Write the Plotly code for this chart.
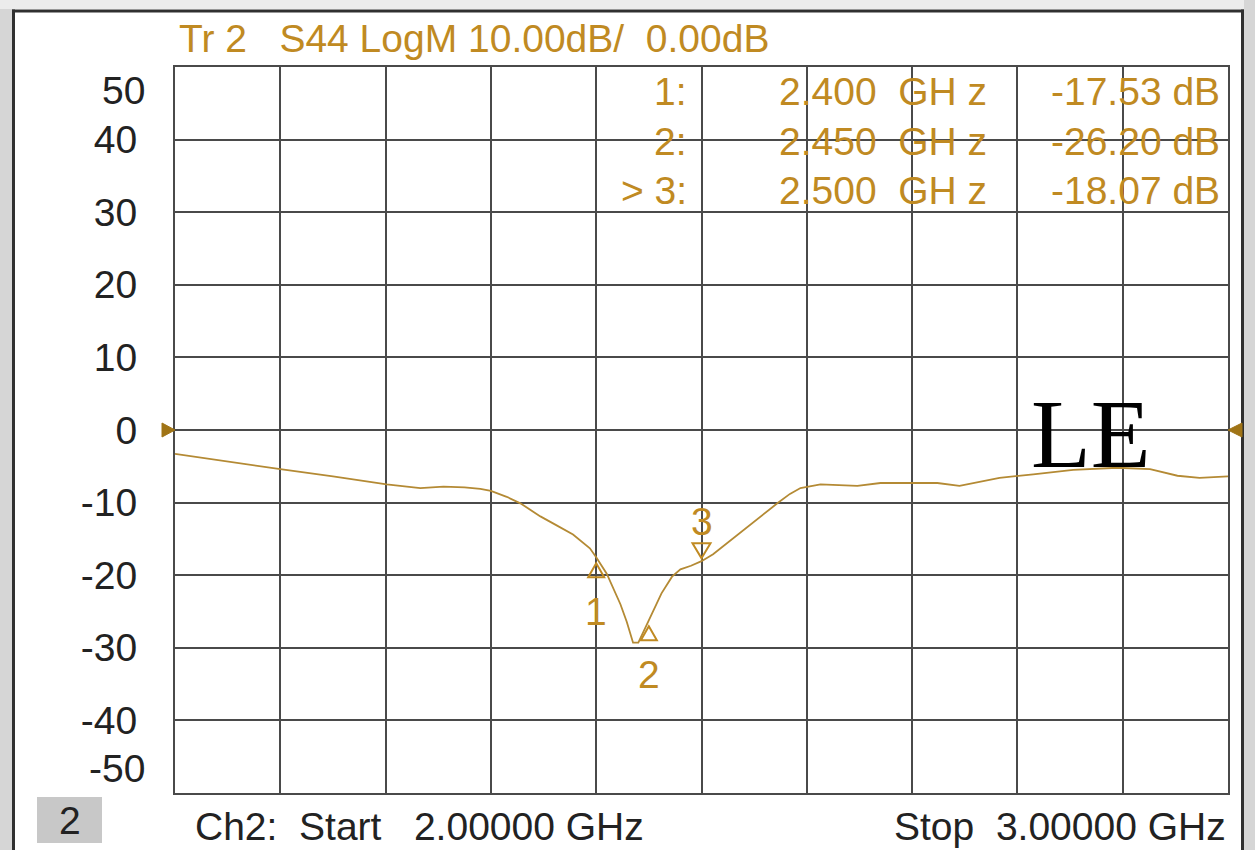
import plotly.graph_objects as go

# ---------------- data ----------------
freq_ghz = [2.000, 2.050, 2.100, 2.150, 2.201, 2.233, 2.255, 2.275, 2.290, 2.300,
            2.315, 2.328, 2.347, 2.362, 2.378, 2.394, 2.400, 2.410, 2.416, 2.423,
            2.429, 2.435, 2.440, 2.450, 2.454, 2.462, 2.472, 2.480, 2.490, 2.500,
            2.511, 2.530, 2.549, 2.572, 2.584, 2.594, 2.613, 2.648, 2.670, 2.724,
            2.745, 2.783, 2.815, 2.853, 2.895, 2.926, 2.952, 2.973, 3.000]
s44_db = [-3.3, -4.4, -5.4, -6.4, -7.5, -8.0, -7.8, -7.9, -8.1, -8.4,
          -9.2, -10.1, -11.9, -13.1, -14.4, -16.3, -17.53, -19.8, -21.8, -24.0,
          -26.4, -29.3, -29.3, -26.2, -25.0, -22.5, -20.2, -19.2, -18.7, -18.07,
          -17.1, -14.9, -12.8, -10.1, -8.8, -8.0, -7.5, -7.7, -7.3, -7.3,
          -7.7, -6.6, -6.1, -5.5, -5.2, -5.4, -6.3, -6.6, -6.4]

marker_ids = ["1", "2", "3"]
marker_row_labels = ["1:", "2:", "> 3:"]
marker_freq = [2.400, 2.450, 2.500]
marker_db = [-17.53, -26.20, -18.07]
marker_dir = ["up", "up", "down"]

y_tick_vals = [50, 40, 30, 20, 10, 0, -10, -20, -30, -40, -50]

NB = "\u00a0"
header_text = "Tr 2" + NB * 3 + "S44 LogM 10.00dB/" + NB * 2 + "0.00dB"
start_text = "Ch2:" + NB * 2 + "Start" + NB * 3 + "2.00000 GHz"
stop_text = "Stop" + NB * 2 + "3.00000 GHz"
overlay_text = "LE"
channel_text = "2"

# ---------------- style ----------------
W, H = 1255, 850
L, R, T, B = 175, 1228, 67, 793
GOLD_TXT = "#c08a22"
GOLD_LINE = "#b48a34"
GOLD_DARK = "#a07416"
GRID = "#4a4a4a"
DARK_TXT = "#222222"
FONT = "Liberation Sans, Arial, sans-serif"
FS = 39


def px(x):
    return (x - L) / (R - L)


def py(y):
    return (B - y) / (B - T)


fig = go.Figure()
fig.add_trace(go.Scatter(x=freq_ghz, y=s44_db, mode="lines",
                         line=dict(color=GOLD_LINE, width=1.8),
                         hoverinfo="skip", showlegend=False))

shapes = []
annotations = []

# frame of the instrument screen
shapes += [
    dict(type="rect", xref="paper", yref="paper", x0=px(0), x1=px(12), y0=py(850), y1=py(0),
         fillcolor="#d6d6d6", line_width=0, layer="below"),
    dict(type="rect", xref="paper", yref="paper", x0=px(0), x1=px(1255), y0=py(9), y1=py(0),
         fillcolor="#ececec", line_width=0, layer="below"),
    dict(type="rect", xref="paper", yref="paper", x0=px(1244), x1=px(1255), y0=py(850), y1=py(0),
         fillcolor="#d6d6d6", line_width=0, layer="below"),
    dict(type="line", xref="paper", yref="paper", x0=px(13.5), x1=px(13.5), y0=py(850), y1=py(9.5),
         line=dict(color="#303030", width=3)),
    dict(type="line", xref="paper", yref="paper", x0=px(12), x1=px(1244), y0=py(11), y1=py(11),
         line=dict(color="#303030", width=3)),
    dict(type="line", xref="paper", yref="paper", x0=px(1242.5), x1=px(1242.5), y0=py(850), y1=py(9.5),
         line=dict(color="#303030", width=3)),
    dict(type="rect", xref="paper", yref="paper", x0=px(37), x1=px(102), y0=py(843), y1=py(797),
         fillcolor="#c8c8c8", line_width=0, layer="below"),
]

# reference-level arrows at 0 dB
shapes += [
    dict(type="path", xref="x domain", yref="y", xsizemode="pixel", ysizemode="pixel",
         xanchor=0, yanchor=0, path="M -13 7 L 0 0 L -13 -7 Z",
         fillcolor=GOLD_DARK, line=dict(color=GOLD_DARK, width=1)),
    dict(type="path", xref="x domain", yref="y", xsizemode="pixel", ysizemode="pixel",
         xanchor=1, yanchor=0, path="M 14 7 L 0 0 L 14 -7 Z",
         fillcolor=GOLD_DARK, line=dict(color=GOLD_DARK, width=1)),
]

# markers on the trace
for mid, f, v, d in zip(marker_ids, marker_freq, marker_db, marker_dir):
    if d == "up":
        path = "M 0 -6 L 8 -20 L -8 -20 Z"
        label_shift = -54
    else:
        path = "M 0 3 L 9 18 L -9 18 Z"
        label_shift = 40
    shapes.append(dict(type="path", xref="x", yref="y", xsizemode="pixel", ysizemode="pixel",
                       xanchor=f, yanchor=v, path=path,
                       line=dict(color=GOLD_TXT, width=2)))
    annotations.append(dict(x=f, y=v, xref="x", yref="y", text=mid, showarrow=False,
                            yshift=label_shift, xanchor="center", yanchor="middle",
                            font=dict(family=FONT, size=FS, color=GOLD_TXT)))

# marker table
row_y = [92, 141, 191]
for lab, f, v, yy in zip(marker_row_labels, marker_freq, marker_db, row_y):
    annotations += [
        dict(x=px(689), y=py(yy), xref="paper", yref="paper", text=lab.replace(" ", NB),
             showarrow=False, xanchor="right", yanchor="middle",
             font=dict(family=FONT, size=FS, color=GOLD_TXT)),
        dict(x=px(777), y=py(yy), xref="paper", yref="paper",
             text=f"{f:.3f}" + NB * 2 + "GH" + NB + "z", showarrow=False,
             xanchor="left", yanchor="middle",
             font=dict(family=FONT, size=FS, color=GOLD_TXT)),
        dict(x=px(1222), y=py(yy), xref="paper", yref="paper",
             text=f"{v:.2f} dB", showarrow=False, xanchor="right", yanchor="middle",
             font=dict(family=FONT, size=FS, color=GOLD_TXT)),
    ]

# header / footer
annotations += [
    dict(x=px(177), y=py(38), xref="paper", yref="paper", text=header_text, showarrow=False,
         xanchor="left", yanchor="middle", font=dict(family=FONT, size=FS, color=GOLD_TXT)),
    dict(x=px(193), y=py(827), xref="paper", yref="paper", text=start_text, showarrow=False,
         xanchor="left", yanchor="middle", font=dict(family=FONT, size=FS, color=DARK_TXT)),
    dict(x=px(1228), y=py(827), xref="paper", yref="paper", text=stop_text, showarrow=False,
         xanchor="right", yanchor="middle", font=dict(family=FONT, size=FS, color=DARK_TXT)),
    dict(x=px(69.5), y=py(820), xref="paper", yref="paper", text=channel_text, showarrow=False,
         xanchor="center", yanchor="middle", font=dict(family=FONT, size=FS, color=DARK_TXT)),
    dict(x=px(1091), y=py(434), xref="paper", yref="paper", text=overlay_text, showarrow=False,
         xanchor="center", yanchor="middle",
         font=dict(family="Liberation Serif, Times New Roman, serif", size=98, color="black")),
]

# end tick labels shifted inward (as on the instrument)
tick_text = [str(v) for v in y_tick_vals]
for v, shift in ((y_tick_vals[0], -23), (y_tick_vals[-1], 25)):
    annotations.append(dict(x=0, y=v, xref="paper", yref="y", text=str(v), showarrow=False,
                            xanchor="right", yanchor="middle", xshift=-28, yshift=shift,
                            font=dict(family=FONT, size=FS, color=DARK_TXT)))
tick_text[0] = ""
tick_text[-1] = ""

fig.update_layout(
    width=W, height=H, autosize=False,
    margin=dict(l=L, r=W - R, t=T, b=H - B, pad=0),
    paper_bgcolor="white", plot_bgcolor="white",
    showlegend=False,
    shapes=shapes, annotations=annotations,
    xaxis=dict(range=[2.0, 3.0], tick0=2.0, dtick=0.1, showgrid=True, gridcolor=GRID, gridwidth=2,
               showline=True, mirror=True, linecolor=GRID, linewidth=2,
               showticklabels=False, ticks="", zeroline=False, fixedrange=True),
    yaxis=dict(range=[-50, 50], tickmode="array", tickvals=y_tick_vals, ticktext=tick_text,
               showgrid=True, gridcolor=GRID, gridwidth=2,
               showline=True, mirror=True, linecolor=GRID, linewidth=2,
               ticks="", ticklabelstandoff=28, zeroline=False, fixedrange=True,
               tickfont=dict(family=FONT, size=FS, color=DARK_TXT)),
)

fig.write_html("out.html", config={"displayModeBar": False},
               post_script="document.body.style.margin='0';document.body.style.overflow='hidden';")
